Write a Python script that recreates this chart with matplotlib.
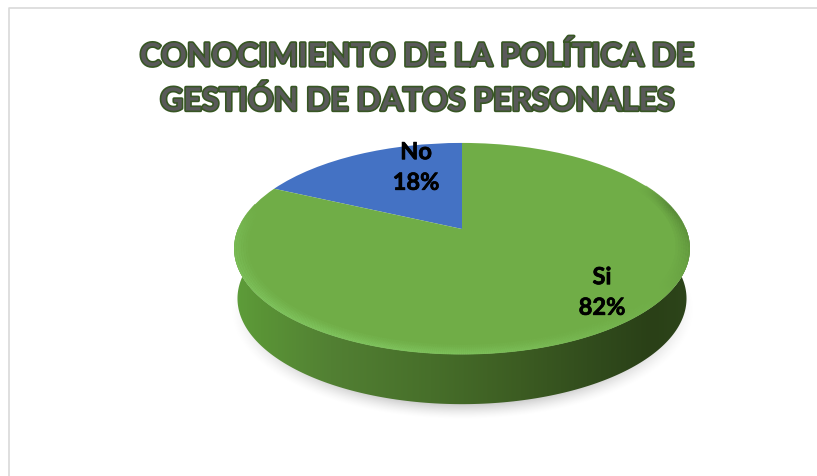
import numpy as np
import matplotlib
matplotlib.use('Agg')
import matplotlib.pyplot as plt
import matplotlib.patheffects as pe
from matplotlib.collections import LineCollection
from matplotlib.patches import Polygon
from matplotlib.transforms import Transform

# --- data ---
title_text = 'CONOCIMIENTO DE LA POLÍTICA DE\nGESTIÓN DE DATOS PERSONALES'
labels = ['No', 'Si']
values = [18, 82]
colors = ['#4472c4', '#70ad47']

# --- pie geometry, in image pixels ---
cx, cy = 462, 230
kx, ky = 224, 102
persp = 0.185


def project(x, y):
    # unit disc -> image pixels, far side smaller
    w = 1 + persp * y
    return cx + kx * x / w, cy - ky * y / w


class DiscToPixels(Transform):
    input_dims = 2
    output_dims = 2
    is_affine = False

    def transform_non_affine(self, values):
        values = np.asarray(values)
        x, y = project(values[:, 0], values[:, 1])
        return np.column_stack((x, y))


fig = plt.figure(figsize=(8.17, 4.77), dpi=100)
ax = fig.add_axes([0, 0, 1, 1])
plt.rcParams['font.family'] = ['Lato', 'DejaVu Sans']

# frame of the original chart
ax.plot([9, 9, 817], [477, 8.5, 8.5], color='#d9d9d9', lw=1.2, zorder=1)

# soft shadow under the pie
gx, gy = np.meshgrid(np.arange(200, 730), np.arange(240, 440))
dist = np.sqrt(((gx - 462) / 232) ** 2 + ((gy - 310) / 110) ** 2)
shadow = np.zeros(gx.shape + (4,))
shadow[..., :3] = 0.55
shadow[..., 3] = 0.5 * np.clip((1.0 - dist) / 0.15, 0, 1) ** 1.5
ax.imshow(shadow, extent=(200, 730, 440, 240), zorder=2, aspect='auto')

# side wall of the disc, horizontal gradient
t = np.linspace(np.pi - 0.25, 2 * np.pi + 0.25, 200)
top_x, top_y = project(np.cos(t), np.sin(t))
low_x = cx + (top_x - cx) * 0.985
low_y = top_y + 50
wall = Polygon(np.column_stack((np.r_[top_x, low_x[::-1]], np.r_[top_y, low_y[::-1]])),
               closed=True, fc='none', ec='none', transform=ax.transData)
ax.add_patch(wall)
stops_x = [232, 260, 330, 430, 520, 600, 650, 692]
stops_r = [0x5e, 0x5a, 0x52, 0x47, 0x3c, 0x30, 0x2a, 0x2d]
stops_g = [0x9e, 0x94, 0x80, 0x6f, 0x5c, 0x4a, 0x40, 0x45]
stops_b = [0x3a, 0x36, 0x33, 0x2a, 0x22, 0x1c, 0x17, 0x1a]
px = np.arange(230, 695)
grad = np.column_stack((np.interp(px, stops_x, stops_r),
                        np.interp(px, stops_x, stops_g),
                        np.interp(px, stops_x, stops_b))) / 255
im = ax.imshow(grad[np.newaxis, :, :], extent=(230, 695, 420, 230), zorder=3, aspect='auto')
im.set_clip_path(wall)

# top face
wedges, _ = ax.pie(values, colors=colors, startangle=90, counterclock=True, radius=1,
                   wedgeprops={'linewidth': 0})
to_pixels = DiscToPixels() + ax.transData
for w in wedges:
    w.set_transform(to_pixels)
    w.set_zorder(4)
    w.set_clip_on(False)

# bevel round the near edge of the disc
a = np.linspace(np.pi * 0.92, np.pi * 2.15, 500)
mid = (a[:-1] + a[1:]) / 2
light = np.array([0.50, 0.77, 0.37])
dark = np.array([0.30, 0.47, 0.19])
base = np.array(matplotlib.colors.to_rgb(colors[1]))
# light towards lower left, dark towards the right, nothing at the two ends
mix = np.cos(mid - np.radians(235))
ends = np.clip(np.minimum(mid - a[0], a[-1] - mid) / 0.25, 0, 1)
radii = [0.995, 0.985, 0.975, 0.965, 0.955, 0.945]
for n, r in enumerate(radii):
    fade = (1 - n / len(radii)) * ends
    x, y = project(r * np.cos(a), r * np.sin(a))
    pts = np.column_stack((x, y))
    segs = np.stack((pts[:-1], pts[1:]), axis=1)
    amount = np.abs(mix)[:, np.newaxis] * fade[:, np.newaxis]
    target = np.where(mix[:, np.newaxis] > 0, light, dark)
    cols = base + amount * (target - base)
    ax.add_collection(LineCollection(segs, colors=cols, linewidths=1.6, zorder=5))

# labels
ax.text(416, 168, f'{labels[0]}\n{values[0]}%', ha='center', va='center', fontsize=17,
        fontweight='bold', color='black', linespacing=1.4, zorder=6,
        path_effects=[pe.withStroke(linewidth=0.5, foreground='black')])
ax.text(602, 293, f'{labels[1]}\n{values[1]}%', ha='center', va='center', fontsize=17,
        fontweight='bold', color='black', linespacing=1.4, zorder=6,
        path_effects=[pe.withStroke(linewidth=0.5, foreground='black')])

# title
ax.text(418, 79, title_text, ha='center', va='center', fontsize=23, fontweight='bold',
        color='#595959', linespacing=1.55, zorder=6,
        path_effects=[pe.withStroke(linewidth=2.4, foreground='#375623')])

ax.set_aspect('auto')
ax.set_xlim(0, 817)
ax.set_ylim(477, 0)
ax.axis('off')
fig.savefig('out.png', dpi=100, facecolor='white')
